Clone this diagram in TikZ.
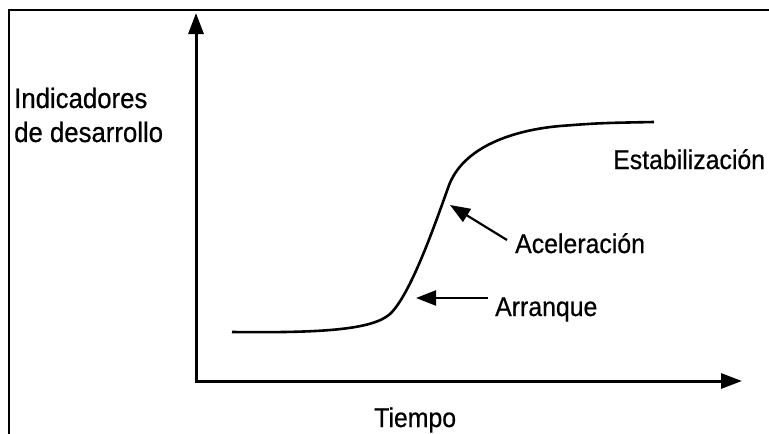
\documentclass[tikz,border=0pt]{standalone}
\usepackage{fontspec}
\setmainfont[FakeStretch=0.92,FakeBold=0.6]{Liberation Sans}
\usetikzlibrary{arrows.meta}
\begin{document}
\begin{tikzpicture}[x=1pt,y=-1pt,
  lbl/.style={inner sep=0pt,font=\fontsize{27}{34}\selectfont},
  axis/.style={line width=3pt,-{Triangle[length=21pt,width=15pt]}},
  pointer/.style={line width=2.2pt,-{Triangle[length=20pt,width=15pt]}},
  frame/.style={line width=1.6pt}]
\useasboundingbox (0,0) rectangle (769,434);
\fill[white] (0,0) rectangle (769,434);
% frame (top and left edges)
\coordinate (ftl) at (9,10);
\coordinate (ftr) at (769,10);
\coordinate (fbl) at (9,434);
\draw[frame] (ftr) -- (ftl) -- (fbl);
% axes
\coordinate (o) at (196,381);
\coordinate (ytip) at (196,13);
\coordinate (xtip) at (742,381);
\draw[axis,line cap=rect] (o) -- (ytip);
\draw[axis] (o) -- (xtip);
% curve
\coordinate (c0) at (232,332);
\coordinate (c1) at (390,314);
\coordinate (c2) at (448,188);
\coordinate (c3) at (560,126);
\coordinate (c4) at (654,122);
\draw[line width=2.6pt]
  (c0) .. controls (320,333) and (372,330) .. (c1)
       .. controls (410,295) and (433,230) .. (c2)
       .. controls (462,146) and (515,130) .. (c3)
       .. controls (600,123) .. (c4);
% labels
\node[lbl,anchor=north west,align=left,font=\fontsize{28}{34}\selectfont] (ind) at (14,87.5) {Indicadores\\de desarrollo};
\node[lbl,anchor=base west] (est) at (613,169) {Estabilización};
\node[lbl,anchor=base west] (ace) at (515,253) {Aceleración};
\node[lbl,anchor=base west] (arr) at (495,316) {Arranque};
\node[lbl,anchor=base west] (tie) at (374,427) {Tiempo};
% pointers
\coordinate (acetip) at (450,205);
\coordinate (arrtip) at (416,298);
\draw[pointer] (507,240) -- (acetip);
\draw[pointer] (488,298) -- (arrtip);
\end{tikzpicture}
\end{document}
